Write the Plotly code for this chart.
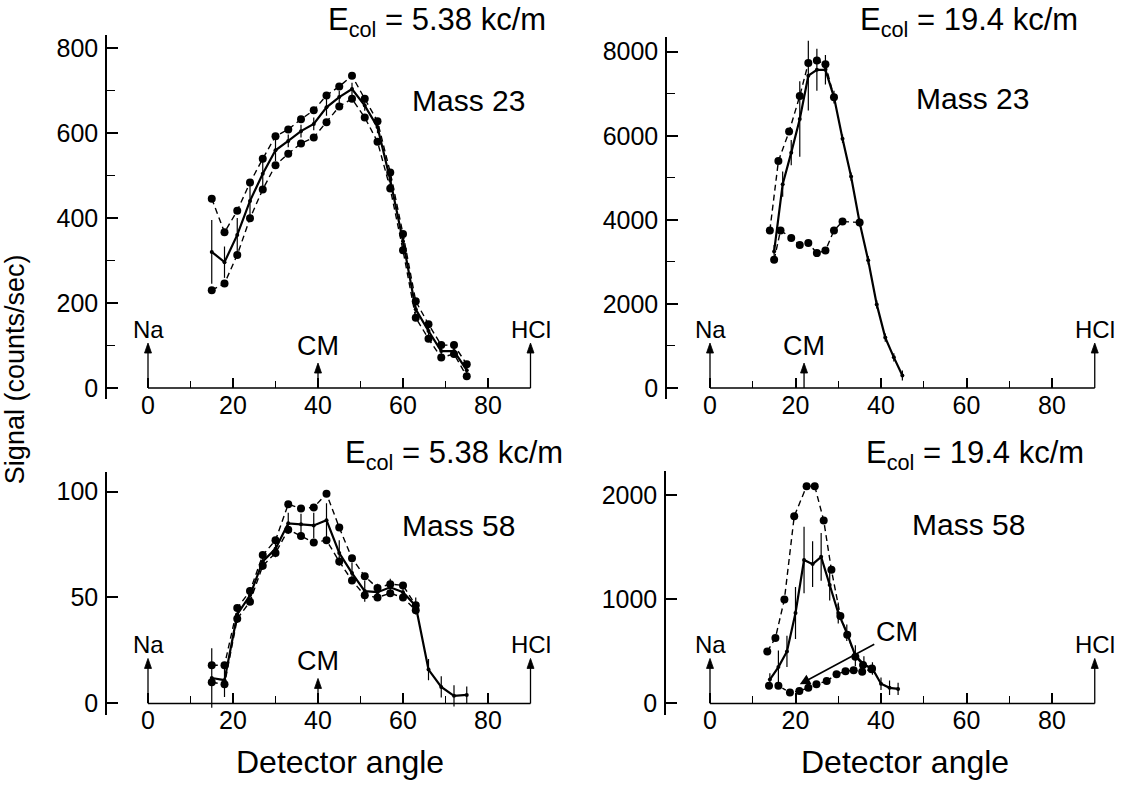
import plotly.graph_objects as go

W, H = 1123, 794
FONT = "Liberation Sans, Arial, Helvetica, sans-serif"

# ---------------- data ----------------
# Panel A : Mass 23, E_col = 5.38 kc/m
a_x = [15, 18, 21, 24, 27, 30, 33, 36, 39, 42, 45, 48, 51, 54, 57, 60, 63, 66, 69, 72, 75]
a_mean = [320, 296, 360, 440, 504, 559, 581, 604, 621, 660, 684, 703, 664, 614, 489, 345, 185, 134, 87, 87, 42]
a_err = [75, 37, 40, 35, 30, 25, 15, 15, 15, 20, 15, 15, 12, 15, 15, 10, 10, 10, 10, 10, 10]
a_up = [445, 366, 417, 483, 539, 592, 608, 632, 653, 688, 709, 734, 680, 627, 507, 362, 204, 150, 101, 101, 56]
a_lo = [230, 246, 313, 399, 467, 524, 551, 575, 589, 625, 662, 680, 636, 579, 469, 324, 165, 116, 72, 80, 28]

# Panel B : Mass 23, E_col = 19.4 kc/m
b_x = [15, 17, 19, 21, 23, 25, 27, 29, 31, 33, 35, 37, 39, 41, 43, 45]
b_mean = [3250, 4850, 5600, 6400, 7430, 7570, 7570, 6920, 5930, 5030, 3940, 3040, 1990, 1200, 730, 300]
b_err = [150, 300, 300, 900, 830, 500, 350, 150, 100, 100, 100, 100, 100, 100, 100, 120]
b_up_x = [14, 16, 18.5, 21, 23, 25, 27, 29]
b_up = [3750, 5400, 6100, 6950, 7730, 7790, 7700, 6920]
b_lo_x = [15, 16.5, 19, 21, 23, 25, 27, 29, 31, 35]
b_lo = [3050, 3750, 3570, 3400, 3450, 3210, 3270, 3750, 3960, 3940]

# Panel C : Mass 58, E_col = 5.38 kc/m
c_x = [15, 18, 21, 24, 27, 30, 33, 36, 39, 42, 45, 48, 51, 54, 57, 60, 63, 66, 69, 72, 75]
c_mean = [12, 11, 42, 51, 67, 73, 85, 84.5, 84, 86.5, 71, 61.5, 53, 52.5, 54.8, 52.5, 46, 16, 7.8, 3.6, 4]
c_err = [14, 8, 4, 4, 4, 4, 5, 5, 6, 8, 6, 5, 5, 4, 4, 4, 4, 5, 5, 5, 4]
c_up_x = [15, 18, 21, 24, 27, 30, 33, 36, 39, 42, 45, 48, 51, 54, 57, 60, 63]
c_up = [18, 18, 45, 53, 70, 77, 94, 92, 92.5, 99, 83, 68.5, 60, 54.5, 56.3, 55.7, 46.3]
c_lo_x = [15, 18, 21, 24, 27, 30, 33, 36, 39, 42, 45, 48, 51, 54, 57, 60, 63]
c_lo = [10, 9, 40, 48, 65, 71, 82, 79, 76, 77, 67, 58, 51, 50, 52, 50, 44]

# Panel D : Mass 58, E_col = 19.4 kc/m
d_x = [14, 16, 18, 20, 22, 24, 26, 28, 30, 32, 34, 36, 38, 40, 42, 44]
d_mean = [230, 350, 500, 870, 1380, 1340, 1410, 1140, 870, 680, 460, 375, 335, 190, 150, 140]
d_err = [60, 160, 150, 250, 320, 220, 230, 150, 100, 80, 100, 80, 60, 60, 70, 60]
d_up_x = [13.4, 15.3, 17.4, 19.7, 22.6, 24.5, 26.6, 28.4, 30.5, 32.1, 34, 35.8, 37.9]
d_up = [500, 630, 1000, 1800, 2090, 2090, 1760, 1285, 840, 660, 450, 370, 335]
d_lo_x = [13.8, 16, 18.7, 20.9, 23, 24.9, 27.3, 29.6, 31.7, 33.6, 35.6, 37.8]
d_lo = [170, 170, 105, 120, 150, 185, 215, 280, 310, 320, 305, 330]

# tick labels
x_ticks = [0, 20, 40, 60, 80]
x_minor = [10, 30, 50, 70]
a_yticks, a_yminor = [0, 200, 400, 600, 800], [100, 300, 500, 700]
b_yticks, b_yminor = [0, 2000, 4000, 6000, 8000], [1000, 3000, 5000, 7000]
c_yticks, c_yminor = [0, 50, 100], []
d_yticks, d_yminor = [0, 1000, 2000], []

energies = ["5.38", "19.4", "5.38", "19.4"]
masses = ["23", "23", "58", "58"]
na_angle, hcl_angle = 0, 90
cm_angle = [40, 22, 40, 21]
cm_d_value = 185  # where the CM arrow points in panel D

# ---------------- geometry (pixels) ----------------
geom = [
    dict(dl=107, dr=540, dt=34, db=400, x0=148, kx=4.25, y0=389, ky=0.4275),
    dict(dl=667, dr=1100, dt=36, db=400, x0=710, kx=4.275, y0=389, ky=0.04225),
    dict(dl=107, dr=540, dt=473, db=718, x0=148, kx=4.25, y0=706, ky=2.13),
    dict(dl=666, dr=1100, dt=472, db=718, x0=710, kx=4.275, y0=706, ky=0.1045),
]

series = [
    (a_x, a_mean, a_err, a_x, a_up, a_x, a_lo, a_yticks, a_yminor),
    (b_x, b_mean, b_err, b_up_x, b_up, b_lo_x, b_lo, b_yticks, b_yminor),
    (c_x, c_mean, c_err, c_up_x, c_up, c_lo_x, c_lo, c_yticks, c_yminor),
    (d_x, d_mean, d_err, d_up_x, d_up, d_lo_x, d_lo, d_yticks, d_yminor),
]

TICKF = dict(size=25, family=FONT, color="black")

fig = go.Figure()
layout = dict(
    width=W, height=H, margin=dict(l=0, r=0, t=0, b=0),
    paper_bgcolor="white", plot_bgcolor="white", showlegend=False,
    font=dict(family=FONT, color="black", size=24),
)
shapes, annotations = [], []


def up_arrow(xr, yr, ang, length):
    """Vertical arrow drawn with pixel-sized shapes rising from the baseline."""
    shapes.append(dict(type="line", xref=xr, yref=yr, x0=ang, x1=ang,
                       ysizemode="pixel", yanchor=0, y0=0, y1=length - 2,
                       line=dict(color="black", width=1.3)))
    shapes.append(dict(type="path", xref=xr, yref=yr,
                       xsizemode="pixel", xanchor=ang, ysizemode="pixel", yanchor=0,
                       path=f"M -3.5,{length - 10} L 0,{length} L 3.5,{length - 10} Z",
                       fillcolor="black", line=dict(color="black", width=0.8)))


for i, (g, s) in enumerate(zip(geom, series)):
    n = "" if i == 0 else str(i + 1)
    xr, yr = "x" + n, "y" + n
    mx, mm, me, ux, uy, lx, ly, yt, ym = s
    dash_lo = "4px,3px" if i == 3 else "6px,4px"
    for xx, yy, dsh in ((ux, uy, "6px,4px"), (lx, ly, dash_lo)):
        fig.add_trace(go.Scatter(
            x=xx, y=yy, xaxis=xr, yaxis=yr, mode="lines+markers",
            line=dict(color="black", width=1.4, dash=dsh),
            marker=dict(color="black", size=8), cliponaxis=False))
    fig.add_trace(go.Scatter(
        x=mx, y=mm, xaxis=xr, yaxis=yr, mode="lines+markers",
        line=dict(color="black", width=2.2),
        marker=dict(color="black", size=4),
        error_y=dict(type="data", array=me, visible=True, width=0,
                     thickness=1.2, color="black"),
        cliponaxis=False))

    xrange = [(g["dl"] - g["x0"]) / g["kx"], (g["dr"] - g["x0"]) / g["kx"]]
    yrange = [(g["y0"] - g["db"]) / g["ky"], (g["y0"] - g["dt"]) / g["ky"]]
    layout["xaxis" + n] = dict(
        domain=[g["dl"] / W, g["dr"] / W], range=xrange, anchor="free",
        position=1 - g["y0"] / H, showline=False, showgrid=False, zeroline=False,
        ticks="inside", ticklen=10, tickwidth=1.5, tickcolor="black",
        tickvals=x_ticks, ticktext=[str(v) for v in x_ticks],
        minor=dict(tickvals=x_minor, ticks="inside", ticklen=7, tickwidth=1.2,
                   tickcolor="black", showgrid=False),
        tickfont=TICKF)
    layout["yaxis" + n] = dict(
        domain=[1 - g["db"] / H, 1 - g["dt"] / H], range=yrange, anchor=xr,
        showline=True, linecolor="black", linewidth=1.5,
        showgrid=False, zeroline=False,
        ticks="inside", ticklen=11, tickwidth=1.5, tickcolor="black",
        tickvals=yt, ticktext=[str(v) for v in yt],
        minor=dict(tickvals=ym, ticks="inside", ticklen=8, tickwidth=1.2,
                   tickcolor="black", showgrid=False),
        tickfont=TICKF, ticklabelstandoff=2)

    # horizontal baseline from Na (0 deg) to HCl (90 deg)
    shapes.append(dict(type="line", xref=xr, yref=yr, x0=na_angle, x1=hcl_angle, y0=0, y1=0,
                       line=dict(color="black", width=1.5)))

    # Na / HCl arrows and labels
    for ang, lab in ((na_angle, "Na"), (hcl_angle, "HCl")):
        up_arrow(xr, yr, ang, 45)
        annotations.append(dict(x=ang, y=0, xref=xr, yref=yr, text=lab, showarrow=False,
                                yshift=59, font=dict(size=24, family=FONT, color="black")))
    # CM marker
    if i != 3:
        up_arrow(xr, yr, cm_angle[i], 25)
        annotations.append(dict(x=cm_angle[i], y=0, xref=xr, yref=yr, text="CM", showarrow=False,
                                yshift=42, font=dict(size=27, family=FONT, color="black")))
    else:
        annotations.append(dict(x=cm_angle[i], y=cm_d_value, xref=xr, yref=yr, text="CM",
                                showarrow=True, ax=97, ay=-52, arrowhead=2, arrowsize=1.3,
                                arrowwidth=1.6, arrowcolor="black",
                                font=dict(size=27, family=FONT, color="black")))

# Titles (E_col and Mass)
title_pos = [(437, 21), (969, 21), (454, 456), (975, 456)]
mass_pos = [(468, 100), (972, 98), (458, 527), (968, 526)]
for i in range(4):
    tx, ty = title_pos[i]
    annotations.append(dict(x=tx / W, y=1 - ty / H, xref="paper", yref="paper",
                            text="E<sub>col</sub> = " + energies[i] + " kc/m", showarrow=False,
                            xanchor="center", yanchor="middle",
                            font=dict(size=31, family=FONT, color="black")))
    mx_, my_ = mass_pos[i]
    annotations.append(dict(x=mx_ / W, y=1 - my_ / H, xref="paper", yref="paper",
                            text="Mass " + masses[i], showarrow=False,
                            xanchor="center", yanchor="middle",
                            font=dict(size=30, family=FONT, color="black")))

# axis titles
annotations.append(dict(x=15 / W, y=1 - 370 / H, xref="paper", yref="paper",
                        text="Signal (counts/sec)", textangle=-90, showarrow=False,
                        xanchor="center", yanchor="middle",
                        font=dict(size=27, family=FONT, color="black")))
for cx in (340, 905):
    annotations.append(dict(x=cx / W, y=1 - 765 / H, xref="paper", yref="paper",
                            text="Detector angle", showarrow=False,
                            xanchor="center", yanchor="middle",
                            font=dict(size=32, family=FONT, color="black")))

layout["shapes"] = shapes
layout["annotations"] = annotations
fig.update_layout(**layout)
fig.write_html("out.html")
